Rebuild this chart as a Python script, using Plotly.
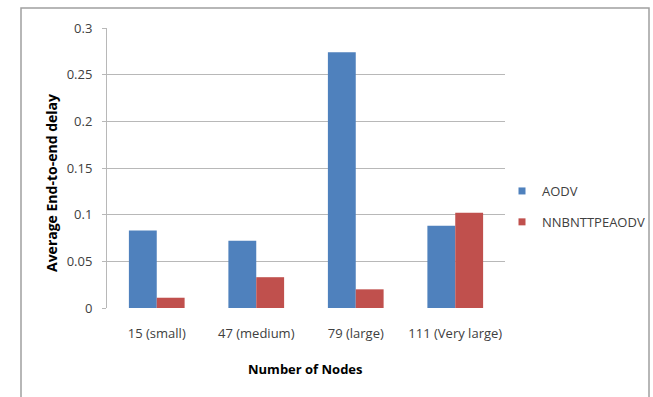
import plotly.graph_objects as go

categories = ["15 (small)", "47 (medium)", "79 (large)", "111 (Very large)"]
aodv = [0.083, 0.072, 0.274, 0.088]
nnbnttpeaodv = [0.011, 0.033, 0.020, 0.102]
series_names = ["AODV", "NNBNTTPEAODV"]
series_colors = ["#4f81bd", "#c0504d"]
y_ticks = [0, 0.05, 0.1, 0.15, 0.2, 0.25, 0.3]
y_tick_labels = ["0", "0.05", "0.1", "0.15", "0.2", "0.25", "0.3"]

W, H = 653, 397
L, R, T, B = 107, 505, 28, 308
pw, ph = R - L, B - T

def px(x):
    return (x - L) / pw

def py(y):
    return (B - y) / ph

font_fam = "Open Sans, Liberation Sans, sans-serif"

fig = go.Figure()
for name, vals, col, grp in zip(series_names, [aodv, nnbnttpeaodv], series_colors, ["a", "b"]):
    fig.add_trace(go.Bar(x=categories, y=vals, name=name, marker_color=col,
                         marker_line_width=0, showlegend=False, legendgroup=grp))
for name, col, grp in zip(series_names, series_colors, ["a", "b"]):
    fig.add_trace(go.Scatter(x=[categories[0]], y=[None], mode="markers", name=name,
                             marker=dict(symbol="square", size=7, color=col),
                             legendgroup=grp, showlegend=True, hoverinfo="skip"))

fig.update_layout(
    width=W, height=H,
    margin=dict(l=L, r=W - R, t=T, b=H - B, pad=0, autoexpand=False),
    paper_bgcolor="white", plot_bgcolor="white",
    barmode="group", bargap=0.44, bargroupgap=0,
    font=dict(family=font_fam, size=13, color="#404040"),
    showlegend=True,
    legend=dict(x=px(502), y=py(176), xanchor="left", yanchor="top",
                font=dict(size=13, color="#404040"), tracegroupgap=11,
                traceorder="grouped", itemwidth=30, bgcolor="rgba(0,0,0,0)"),
    xaxis=dict(showgrid=False, showline=False, ticks="", tickfont=dict(size=13),
               zeroline=False, ticklabelstandoff=16),
    yaxis=dict(range=[0, 0.3], tickvals=y_ticks, ticktext=y_tick_labels,
               showgrid=True, gridcolor="#b8b8b8", gridwidth=1,
               showline=True, linecolor="#b8b8b8", linewidth=1,
               ticks="outside", ticklen=4, tickcolor="#b8b8b8",
               zeroline=False, tickfont=dict(size=13), ticklabelstandoff=7),
    shapes=[dict(type="rect", xref="paper", yref="paper",
                 x0=px(21), x1=px(649), y0=py(402), y1=py(8),
                 line=dict(color="#a0a0a0", width=1.5), fillcolor="rgba(0,0,0,0)",
                 layer="below")],
    annotations=[
        dict(text="<b>Number of Nodes</b>", xref="paper", yref="paper",
             x=px(305), y=py(369), showarrow=False, font=dict(size=13, color="#000000"),
             xanchor="center", yanchor="middle"),
        dict(text="<b>Average End-to-end delay</b>", xref="paper", yref="paper",
             x=px(51), y=py(183), showarrow=False, textangle=-90,
             font=dict(size=14, color="#000000"), xanchor="center", yanchor="middle"),
    ],
)

fig.write_html("out.html")
